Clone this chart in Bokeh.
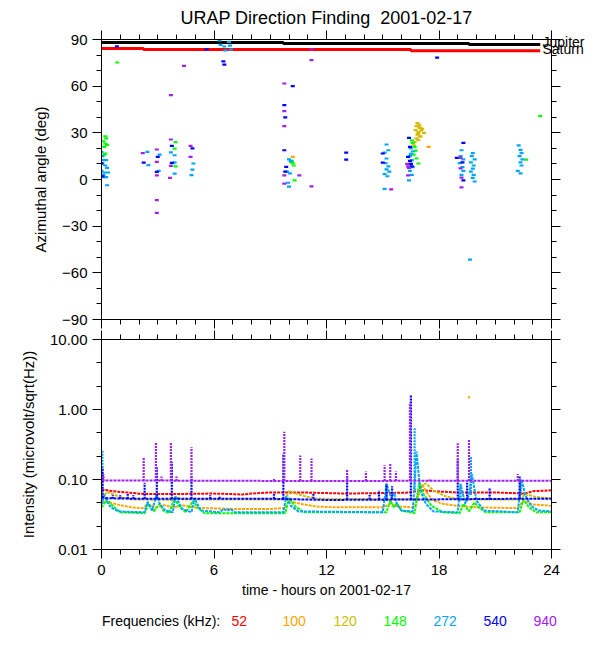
from bokeh.plotting import figure
from bokeh.layouts import column
from bokeh.models import (FixedTicker, LinearAxis, LogAxis, NumeralTickFormatter, Range1d,
                          CustomJSTickFormatter)
from bokeh.core.properties import value
from bokeh.embed import file_html
from bokeh.resources import INLINE

FONT = "Liberation Sans"

FREQS = ["52", "100", "120", "148", "272", "540", "940"]
COLORS = ["#FF0000", "#FFA500", "#CDBE00", "#00FF00", "#00A5FF", "#0000FF", "#A020F0"]

TITLE = "URAP Direction Finding\u00a0 2001-02-17"
X_TICKS = [0, 6, 12, 18, 24]
X_MINOR = list(range(0, 25))
A_TICKS = [-90, -60, -30, 0, 30, 60, 90]
A_MINOR = list(range(-90, 91, 10))
I_TICKS = [0.01, 0.1, 1.0, 10.0]

# Jupiter / Saturn direction (deg), step lines
JUP_T = [0.0, 9.7, 19.6, 23.4]
JUP_A = [88.1, 87.4, 86.8, 86.8]
SAT_T = [0.0, 2.24, 16.5, 23.4]
SAT_A = [84.2, 83.6, 82.7, 82.7]
PLANET_NAMES = ["Jupiter", "Saturn"]

# ---- direction finding points (time h, azimuth deg) per frequency ----
DF_T_100 = [16.95, 17.05, 16.9, 17.0, 17.45, 10.2]
DF_A_100 = [33.5, 31.5, 29.5, 27.5, 21.0, 14.5]

DF_T_120 = [16.85, 16.95, 16.8, 17.0, 16.75, 16.9, 16.85, 17.0, 16.8, 16.9, 16.7, 16.65, 17.1, 17.2]
DF_A_120 = [36.2, 35.2, 34.3, 33.2, 31.8, 30.5, 28.8, 27.8, 26.5, 25.4, 24.0, 22.0, 32.5, 30.0]

DF_T_148 = [0.2, 0.25, 0.1, 0.2, 0.3, 0.15, 0.2, 0.15, 0.84, 3.95, 3.9, 3.95,
            10.15, 10.2, 10.25, 10.3, 10.1, 16.55, 16.6, 16.7, 16.75, 16.65, 16.8, 16.9, 22.65, 23.4]
DF_A_148 = [27.8, 26.5, 24.6, 23.0, 22.3, 21.0, 16.7, 16.0, 75.2, 24.0, 19.9, 8.5,
            12.0, 10.5, 9.0, -0.5, 11.3, 25.2, 23.5, 21.0, 18.5, 16.0, 13.5, 10.3, 12.8, 40.8]

DF_T_272 = [0.0, 0.05, 0.1, 0.25, 0.05, 0.2, 0.3, 0.0, 0.15, 0.35, 0.1, 0.25, 0.1, 0.3,
            2.45, 2.5, 3.1, 3.05, 3.7, 3.9, 3.8, 3.9, 3.9, 4.9, 4.85, 4.8,
            6.3, 6.35, 6.55, 6.6, 6.8, 6.85, 6.9,
            10.0, 10.1, 9.9, 10.05, 9.95, 10.0,
            15.2, 15.3, 15.1, 15.2, 15.15, 15.3, 15.2, 15.35, 15.1, 15.25, 15.1,
            16.5, 16.6, 16.45, 16.55, 16.5, 16.6, 16.45, 16.55, 16.4, 16.5,
            19.2, 19.15, 19.3, 19.1, 19.25, 19.3, 19.2,
            19.8, 19.75, 19.9, 19.7, 19.85, 19.8, 19.7, 19.85, 19.8, 19.9, 19.65,
            22.25, 22.35, 22.4, 22.3, 22.45, 22.35, 22.4, 22.2, 22.35]
DF_A_272 = [17.6, 15.0, 12.4, 12.4, 10.0, 9.0, 7.5, 5.5, 4.5, 4.5, 3.0, 1.5, 1.5, -3.7,
            17.8, 9.2, 16.0, 5.5, 17.4, 15.6, 10.5, 11.0, 3.8, 10.3, 6.4, 2.8,
            89.5, 86.5, 85.5, 83.0, 88.5, 86.0, 83.5,
            13.0, 12.0, 5.0, 4.0, -2.1, -4.6,
            22.5, 18.8, 17.3, 13.5, 10.5, 8.5, 6.5, 5.0, 3.5, 2.1, -6.0,
            20.0, 18.0, 15.0, 12.5, 10.0, 8.0, 5.5, 3.0, -0.5, 16.5,
            18.8, 15.0, 13.0, 10.5, 8.0, 5.5, 3.0,
            16.9, 15.0, 13.0, 11.0, 9.0, 7.0, 5.0, 3.0, 1.0, -1.3, -51.5,
            22.0, 19.0, 17.0, 15.0, 13.0, 11.0, 9.0, 5.5, 4.0]

DF_T_540 = [0.0, 0.05, 0.82, 2.25, 3.0, 2.95, 3.75, 3.75, 4.85, 5.6, 6.5, 6.55,
            9.75, 9.8, 9.75, 9.85, 9.8, 10.2, 13.05, 13.05, 15.0, 15.0,
            16.4, 16.45, 16.35, 16.5, 16.55, 16.45, 17.9, 19.3, 18.95, 19.3, 19.25]
DF_A_540 = [10.5, 2.0, 85.6, 10.9, 14.5, 4.9, 21.6, 10.7, 20.0, 83.7, 76.0, 73.9,
            47.8, 39.9, 18.8, 8.1, 5.0, 60.0, 17.3, 12.8, 16.7, 10.9,
            26.8, 21.0, 14.5, 10.0, 8.5, 12.0, 78.4, 23.5, 13.9, -0.5, 11.0]

DF_T_940 = [2.2, 2.95, 2.95, 2.95, 2.95, 2.95, 3.7, 3.7, 3.65, 3.7, 4.75, 4.75, 4.4,
            9.75, 9.75, 9.75, 10.55, 9.75, 9.75, 11.2, 11.2, 11.2, 15.45,
            16.3, 16.35, 16.4, 16.35, 19.15, 19.15, 19.2, 19.2]
DF_A_940 = [16.9, 19.3, 11.3, 2.6, -13.3, -21.5, 25.7, 8.7, 1.0, 54.2, 21.6, 14.5, 73.0,
            61.7, 44.0, 34.3, 2.6, 2.6, -2.6, 83.7, 76.7, -4.4, -6.4,
            10.0, 8.5, 7.5, 2.6, 13.9, 7.1, 1.2, -5.1]

# ---- intensity (microvolt/sqrt(Hz)) background levels per frequency ----
IN_T_52 = [0, 0.6, 1.4, 2.3, 3.9, 5.9, 6.9, 7.5, 8.0, 8.9, 11.0, 13.0, 15.0, 16.4, 16.8, 17.1,
           18.1, 19.1, 21.2, 22.6, 23.0, 24.0]
IN_V_52 = [0.072, 0.068, 0.065, 0.062, 0.062, 0.063, 0.062, 0.061, 0.063, 0.065, 0.065, 0.063,
           0.064, 0.065, 0.068, 0.070, 0.067, 0.065, 0.065, 0.063, 0.068, 0.070]

IN_T_100 = [0, 0.4, 1.0, 1.6, 2.2, 2.5, 2.9, 3.3, 3.9, 4.3, 4.9, 5.5, 7.0, 9.0, 9.8, 10.0, 10.3,
            10.8, 11.5, 12.5, 15.0, 15.4, 15.8, 16.7, 17.1, 17.4, 17.7, 18.2, 19.0, 20.0, 22.2,
            22.5, 23.0, 24.0]
IN_V_100 = [0.050, 0.047, 0.043, 0.040, 0.039, 0.044, 0.040, 0.043, 0.040, 0.043, 0.040, 0.039,
            0.038, 0.038, 0.039, 0.050, 0.047, 0.044, 0.041, 0.040, 0.040, 0.045, 0.041, 0.040,
            0.085, 0.062, 0.050, 0.045, 0.042, 0.040, 0.039, 0.050, 0.044, 0.042]

IN_T_120 = [0, 0.3, 0.6, 1.0, 1.6, 3.8, 4.0, 4.3, 9.8, 10.0, 10.3, 10.8, 11.5, 16.8, 17.0, 17.3,
            17.7, 18.3, 19.0, 22.3, 22.6, 23.2, 24.0]
IN_V_120 = [0.055, 0.066, 0.062, 0.056, 0.052, 0.051, 0.056, 0.052, 0.052, 0.068, 0.064, 0.058,
            0.053, 0.052, 0.080, 0.088, 0.070, 0.058, 0.052, 0.052, 0.062, 0.056, 0.054]

IN_T_148 = [0, 0.3, 0.6, 1.0, 2.3, 2.5, 2.8, 3.1, 3.3, 3.6, 3.9, 4.1, 4.5, 4.9, 5.1, 5.5, 9.8,
            10.0, 10.3, 10.8, 15.2, 15.4, 15.6, 15.75, 16.0, 16.7, 16.95, 17.2, 17.6, 18.2, 19.1,
            19.3, 19.6, 19.9, 20.1, 20.5, 22.3, 22.5, 22.8, 23.2, 24.0]
IN_V_148 = [0.040, 0.052, 0.042, 0.034, 0.033, 0.045, 0.035, 0.045, 0.036, 0.033, 0.055, 0.042,
            0.034, 0.050, 0.040, 0.033, 0.033, 0.055, 0.042, 0.034, 0.034, 0.050, 0.040, 0.046,
            0.036, 0.033, 0.090, 0.060, 0.042, 0.034, 0.033, 0.045, 0.035, 0.047, 0.040, 0.034,
            0.034, 0.052, 0.040, 0.034, 0.034]

IN_T_272 = [0, 0.15, 0.3, 0.5, 0.9, 2.3, 2.45, 2.7, 2.95, 3.1, 3.4, 3.8, 3.95, 4.3, 4.8, 4.95,
            5.3, 6.3, 6.5, 6.7, 6.9, 7.1, 9.7, 9.85, 10.1, 10.5, 15.0, 15.2, 15.45, 15.6, 15.75,
            16.0, 16.6, 16.8, 17.0, 17.3, 17.7, 19.0, 19.15, 19.4, 19.6, 19.75, 20.0, 20.4, 22.2,
            22.4, 22.6, 22.9, 23.3, 24.0]
IN_V_272 = [0.045, 0.06, 0.048, 0.04, 0.035, 0.034, 0.048, 0.036, 0.062, 0.045, 0.036, 0.034,
            0.058, 0.038, 0.034, 0.054, 0.036, 0.034, 0.038, 0.036, 0.038, 0.034, 0.034, 0.058,
            0.042, 0.035, 0.034, 0.085, 0.055, 0.065, 0.045, 0.036, 0.035, 0.25, 0.07, 0.045,
            0.035, 0.034, 0.085, 0.045, 0.06, 0.12, 0.05, 0.036, 0.034, 0.1, 0.06, 0.042, 0.036,
            0.035]

IN_T_540 = [0, 0.3, 2.0, 9.0, 12.0, 18.0, 22.0, 24.0]
IN_V_540 = [0.056, 0.054, 0.053, 0.053, 0.051, 0.052, 0.053, 0.053]

IN_T_940 = [0, 6, 12, 18, 24]
IN_V_940 = [0.097, 0.096, 0.095, 0.096, 0.096]

# ---- bursts: time, low, peak ----
SP_T_100 = [19.6]
SP_LO_100 = [1.45]
SP_HI_100 = [1.55]

SP_T_272 = [0.05, 15.2, 16.7, 19.15, 19.7, 22.35]
SP_LO_272 = [0.045, 0.05, 0.07, 0.05, 0.06, 0.06]
SP_HI_272 = [0.26, 0.087, 0.55, 0.087, 0.21, 0.10]

SP_T_540 = [0.05, 0.6, 1.0, 1.4, 1.7, 2.3, 2.95, 3.75, 4.8, 5.8, 6.3, 9.2, 9.7, 11.3, 13.1,
            14.3, 14.8, 15.2, 15.5, 16.5, 19.0, 19.5, 20.7, 22.3]
SP_LO_540 = [0.055, 0.053, 0.053, 0.053, 0.053, 0.053, 0.053, 0.053, 0.053, 0.053, 0.053,
             0.053, 0.053, 0.053, 0.052, 0.052, 0.052, 0.052, 0.052, 0.052, 0.052, 0.052,
             0.052, 0.052]
SP_HI_540 = [0.15, 0.06, 0.06, 0.062, 0.06, 0.09, 0.15, 0.18, 0.11, 0.06, 0.058, 0.062, 0.23,
             0.062, 0.11, 0.06, 0.07, 0.087, 0.08, 1.6, 0.19, 0.09, 0.075, 0.11]

SP_T_940 = [0.1, 2.25, 2.9, 3.2, 3.7, 4.0, 4.8, 9.2, 9.75, 10.6, 11.2, 13.1, 14.1, 15.1, 15.4,
            15.7, 16.45, 17.5, 19.0, 19.6, 22.2]
SP_LO_940 = [0.095] * 21
SP_HI_940 = [0.12, 0.21, 0.34, 0.11, 0.34, 0.11, 0.29, 0.105, 0.48, 0.22, 0.2, 0.14, 0.13,
             0.16, 0.17, 0.13, 1.25, 0.10, 0.33, 0.38, 0.12]

LEGEND_LABEL = "Frequencies (kHz):"


def style_axis(ax, major, minor, labels=True):
    ax.ticker = FixedTicker(ticks=major, minor_ticks=minor)
    ax.major_tick_in = 0
    ax.major_tick_out = 9
    ax.minor_tick_in = 0
    ax.minor_tick_out = 5
    for attr in ("axis_line_color", "major_tick_line_color", "minor_tick_line_color"):
        setattr(ax, attr, "black")
    ax.major_label_text_font = FONT
    if labels:
        ax.major_label_text_color = "black"
        ax.major_label_text_font_size = "15px"
        ax.major_label_standoff = 5
    else:
        ax.major_label_text_color = None
        ax.major_label_text_font_size = "1px"
        ax.major_label_standoff = 0
    ax.axis_label_text_font = FONT
    ax.axis_label_text_font_style = "normal"
    ax.axis_label_text_font_size = "15px"
    ax.axis_label_text_color = "black"


def make_fig(y_range, y_type, top, bottom, height, title=None):
    p = figure(frame_width=450, frame_height=height, x_range=Range1d(0, 24), y_range=y_range,
               y_axis_type=y_type, output_backend="svg", toolbar_location=None, title=title,
               min_border_left=101, min_border_right=37, min_border_top=top,
               min_border_bottom=bottom)
    p.xgrid.visible = False
    p.ygrid.visible = False
    p.outline_line_color = "black"
    p.background_fill_color = "white"
    p.border_fill_color = "white"
    return p


# ---------------- top panel ----------------
p1 = make_fig(Range1d(-90, 90), "linear", 39, 10, 280, title=TITLE)
p1.title.align = "center"
p1.title.text_font = FONT
p1.title.text_font_size = "18px"
p1.title.text_font_style = "normal"
p1.title.text_color = "black"
p1.title.standoff = 5
style_axis(p1.xaxis[0], X_TICKS, X_MINOR, labels=False)
style_axis(p1.yaxis[0], A_TICKS, A_MINOR)
p1.yaxis[0].axis_label = "Azimuthal angle (deg)"
p1.yaxis[0].axis_label_standoff = 10
ax_top = LinearAxis()
style_axis(ax_top, X_TICKS, X_MINOR, labels=False)
ax_top.major_label_standoff = 5
p1.add_layout(ax_top, "above")
ax_r1 = LinearAxis()
style_axis(ax_r1, A_TICKS, A_MINOR, labels=False)
p1.add_layout(ax_r1, "right")

# planet names as labels of an extra right axis placed at the end of their lines
ax_names = LinearAxis(ticker=FixedTicker(ticks=[JUP_A[-1] + 1.8, SAT_A[-1] + 1.5], minor_ticks=[]),
                      formatter=CustomJSTickFormatter(
                          code="return tick > %f ? '%s' : '%s';" % (
                              (JUP_A[-1] + SAT_A[-1]) / 2 + 1.6, PLANET_NAMES[0], PLANET_NAMES[1])),
                      axis_line_color=None, major_tick_out=0, major_tick_in=0, minor_tick_out=0,
                      minor_tick_in=0, major_label_standoff=-18, major_label_text_font=FONT,
                      major_label_text_font_size="14px", major_label_text_color="black")
p1.add_layout(ax_names, "right")

p1.step(JUP_T, JUP_A, mode="after", line_color="black", line_width=3)
p1.step(SAT_T, SAT_A, mode="after", line_color="#FF0000", line_width=3)

df_sets = [(DF_T_100, DF_A_100, COLORS[1]), (DF_T_120, DF_A_120, COLORS[2]),
           (DF_T_148, DF_A_148, COLORS[3]), (DF_T_272, DF_A_272, COLORS[4]),
           (DF_T_540, DF_A_540, COLORS[5]), (DF_T_940, DF_A_940, COLORS[6])]
for t, a, c in df_sets:
    p1.scatter(t, a, marker="dash", size=4, line_width=2.2, line_color=c)

# ---------------- bottom panel ----------------
I_MINOR = [10 ** (e + f / 3.0) for e in (-2, -1, 0) for f in (1, 2)]
p2 = make_fig(Range1d(0.01, 10), "log", 10, 55, 210)
style_axis(p2.xaxis[0], X_TICKS, X_MINOR)
p2.xaxis[0].axis_label = "time - hours on 2001-02-17"
p2.xaxis[0].axis_label_text_font_size = "14px"
p2.xaxis[0].major_label_standoff = 6
p2.xaxis[0].axis_label_standoff = 4
style_axis(p2.yaxis[0], I_TICKS, I_MINOR)
p2.yaxis[0].formatter = NumeralTickFormatter(format="0.00")
p2.yaxis[0].axis_label = "Intensity (microvolt/sqrt(Hz))"
p2.yaxis[0].axis_label_standoff = 10
ax_top2 = LinearAxis()
style_axis(ax_top2, X_TICKS, X_MINOR, labels=False)
p2.add_layout(ax_top2, "above")
ax_r2 = LogAxis()
style_axis(ax_r2, I_TICKS, I_MINOR, labels=False)
p2.add_layout(ax_r2, "right")

series = [(IN_T_52, IN_V_52), (IN_T_100, IN_V_100), (IN_T_120, IN_V_120),
          (IN_T_148, IN_V_148), (IN_T_272, IN_V_272), (IN_T_540, IN_V_540),
          (IN_T_940, IN_V_940)]
spikes = {1: (SP_T_100, SP_LO_100, SP_HI_100), 4: (SP_T_272, SP_LO_272, SP_HI_272),
          5: (SP_T_540, SP_LO_540, SP_HI_540), 6: (SP_T_940, SP_LO_940, SP_HI_940)}
for i, (t, v) in enumerate(series):
    c = COLORS[i]
    p2.line(t, v, line_color=c, line_width=2, line_dash="3 1")
    if i in spikes:
        st, lo, hi = spikes[i]
        p2.segment(x0=st, y0=lo, x1=st, y1=hi, line_color=c, line_width=2.2, line_dash="2 1")

# ---------------- frequency legend row ----------------
LEGEND_X = [0.5, 130, 181, 232, 282, 332, 382, 432]
p3 = figure(frame_width=500, frame_height=32, x_range=Range1d(0, 500), y_range=Range1d(0, 1),
            output_backend="svg", toolbar_location=None, title=None,
            x_axis_location=None, y_axis_location=None,
            min_border_left=101, min_border_right=0, min_border_top=0, min_border_bottom=0)
p3.xgrid.visible = False
p3.ygrid.visible = False
p3.outline_line_color = None
p3.text(x=LEGEND_X, y=[0.5] * len(LEGEND_X), text=[LEGEND_LABEL] + FREQS,
        text_color=["black"] + COLORS, text_font=value(FONT), text_font_size=value("14px"),
        text_baseline="middle", text_align="left")

layout = column(p1, p2, p3, spacing=0)
open("out.html", "w").write(file_html(layout, INLINE))
